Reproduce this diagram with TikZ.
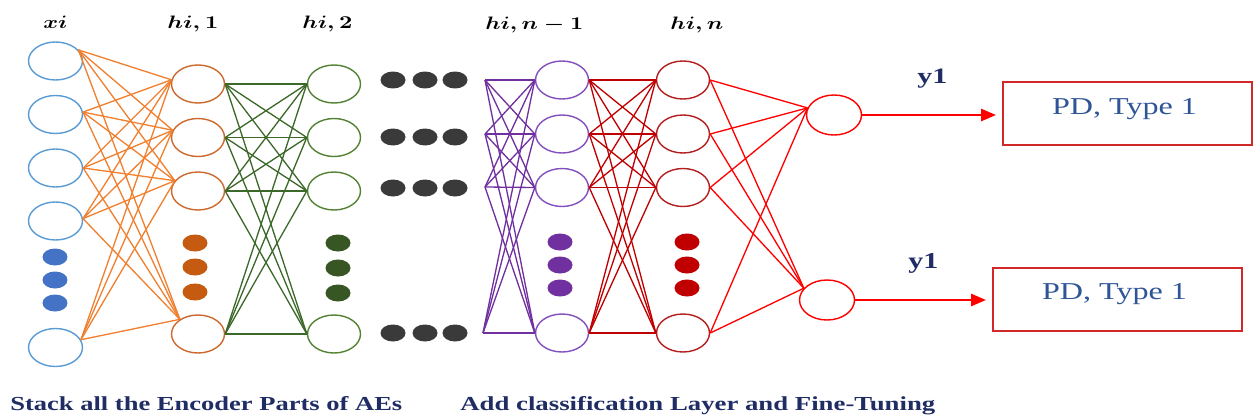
\documentclass[tikz,border=0pt]{standalone}
\usepackage{fontspec}
\setmainfont{Liberation Serif}
\usepackage{graphicx}
\usetikzlibrary{shapes.geometric,arrows.meta}

\definecolor{inblue}{RGB}{91,155,213}
\definecolor{dotblue}{RGB}{68,114,196}
\definecolor{orline}{RGB}{240,128,48}
\definecolor{orcirc}{RGB}{205,105,45}
\definecolor{ordot}{RGB}{197,90,17}
\definecolor{grline}{RGB}{60,105,42}
\definecolor{grcirc}{RGB}{84,130,53}
\definecolor{grdot}{RGB}{55,86,35}
\definecolor{graydot}{RGB}{58,58,58}
\definecolor{puline}{RGB}{112,48,160}
\definecolor{pucirc}{RGB}{130,80,190}
\definecolor{drline}{RGB}{192,0,0}
\definecolor{drcirc}{RGB}{180,30,30}
\definecolor{brred}{RGB}{255,0,0}
\definecolor{boxred}{RGB}{210,40,40}
\definecolor{navy}{RGB}{31,45,100}
\definecolor{pdblue}{RGB}{47,85,151}

\begin{document}
\begin{tikzpicture}[x=0.02cm,y=-0.02cm,
  unit/.style={ellipse, draw, line width=0.8pt, minimum width=1.06cm,
               minimum height=0.76cm, inner sep=0pt},
  inunit/.style={unit, draw=inblue, minimum width=1.08cm},
  outunit/.style={unit, draw=brred, minimum width=1.1cm, minimum height=0.8cm},
  blob/.style={ellipse, fill=#1, draw=none, minimum width=0.5cm,
               minimum height=0.34cm, inner sep=0pt},
  link/.style={line width=0.75pt, draw=#1},
  lbl/.style={inner sep=0pt, anchor=base west},
  classbox/.style={draw=boxred, line width=1.1pt, minimum width=4.98cm,
                   minimum height=1.26cm, inner sep=0pt},
  outarrow/.style={draw=brred, line width=1.5pt,
                   -{Triangle[length=0.3cm,width=0.24cm]}, shorten >=0.12cm}
]
\useasboundingbox (0,0) rectangle (1253,419);

% input layer
\node[inunit] (in1) at (55.5,61) {};
\node[inunit] (in2) at (55.5,114.5) {};
\node[inunit] (in3) at (55.5,168) {};
\node[inunit] (in4) at (55.5,221) {};
\node[inunit] (in5) at (55.5,347.5) {};
\foreach \y [count=\k] in {257,280,303} \node[blob=dotblue] (bd\k) at (55,\y) {};

% first hidden layer
\foreach \y [count=\k] in {84,137.5,191,334} \node[unit, draw=orcirc] (a\k) at (198,\y) {};
\foreach \y [count=\k] in {243,267,292} \node[blob=ordot] (od\k) at (195,\y) {};

% second hidden layer
\foreach \y [count=\k] in {84,137.5,191,334} \node[unit, draw=grcirc] (b\k) at (334,\y) {};
\foreach \y [count=\k] in {243,268,293} \node[blob=grdot] (gd\k) at (338,\y) {};

% skipped layers
\foreach \y [count=\r] in {80,137,188,333}
  \foreach \x [count=\c] in {393,425,455}
    \node[blob=graydot] (sk\r\c) at (\x,\y) {};

% layer n-1 with its incoming fan
\coordinate (p1) at (485,80);
\coordinate (p2) at (485,134);
\coordinate (p3) at (485,187);
\coordinate (p4) at (483,333);
\foreach \y [count=\k] in {80,134,187.5,333} \node[unit, draw=pucirc] (c\k) at (562,\y) {};
\foreach \y [count=\k] in {242,265,288} \node[blob=puline] (pd\k) at (560,\y) {};

% layer n
\foreach \y [count=\k] in {80,134,187.5,333} \node[unit, draw=drcirc] (d\k) at (683,\y) {};
\foreach \y [count=\k] in {242,265,288} \node[blob=drline] (rd\k) at (687,\y) {};

% classification units
\node[outunit] (o1) at (834,115) {};
\node[outunit] (o2) at (827,300) {};

% output boxes
\node[classbox] (box1) at (1127.5,113.5) {};
\node[classbox] (box2) at (1117.5,299.5) {};
\node[inner sep=0pt, anchor=base, text=pdblue] (t1) at ([xshift=-0.06cm,yshift=-0.01cm]box1.center)
  {\resizebox{2.9cm}{0.32cm}{PD, Type 1}};
\node[inner sep=0pt, anchor=base, text=pdblue] (t2) at ([xshift=-0.06cm,yshift=0.01cm]box2.center)
  {\resizebox{2.9cm}{0.32cm}{PD, Type 1}};

% connections
\foreach \i/\s in {1/26,2/5,3/0,4/5,5/17}
  \foreach \j/\t in {1/171,2/164,3/156,4/141}
    \draw[link=orline] (in\i.\s) -- (a\j.\t);
\foreach \i in {1,...,4}
  \foreach \j in {1,...,4}
    \draw[link=grline] (a\i.east) -- (b\j.west);
\foreach \i in {1,...,4}
  \foreach \j in {1,...,4}
    \draw[link=puline] (p\i) -- (c\j.west);
\foreach \i in {1,...,4}
  \foreach \j in {1,...,4}
    \draw[link=drline] (c\i.east) -- (d\j.west);
\foreach \i in {1,...,4} {
  \draw[link=brred] (d\i.east) -- (o1.165);
  \draw[link=brred] (d\i.east) -- (o2.153);
}
\draw[outarrow] (o1.east) -- (o1.east -| box1.west);
\draw[outarrow] (o2.east) -- (o2.east -| box2.west);

% layer titles
\node[lbl] (lx) at (43,28.5) {\resizebox{0.48cm}{0.25cm}{\boldmath$xi$}};
\node[lbl] (l1) at (167,28.5) {\resizebox{1.02cm}{0.25cm}{\boldmath$hi,1$}};
\node[lbl] (l2) at (302,28.5) {\resizebox{1.0cm}{0.25cm}{\boldmath$hi,2$}};
\node[lbl] (l3) at (485,29.5) {\resizebox{1.96cm}{0.25cm}{\boldmath$hi,n-1$}};
\node[lbl] (l4) at (670,29.5) {\resizebox{1.06cm}{0.25cm}{\boldmath$hi,n$}};

% output labels
\node[lbl, text=navy] (y1a) at (917,83) {\resizebox{0.6cm}{0.29cm}{\bfseries y1}};
\node[lbl, text=navy] (y1b) at (908,268) {\resizebox{0.6cm}{0.3cm}{\bfseries y1}};

% captions
\node[lbl, text=navy] (cap1) at (10,410.5)
  {\resizebox{7.84cm}{0.28cm}{\bfseries Stack all the Encoder Parts of AEs}};
\node[lbl, text=navy] (cap2) at (460,410.5)
  {\resizebox{9.5cm}{0.28cm}{\bfseries Add classification Layer and Fine-Tuning}};
\end{tikzpicture}
\end{document}
